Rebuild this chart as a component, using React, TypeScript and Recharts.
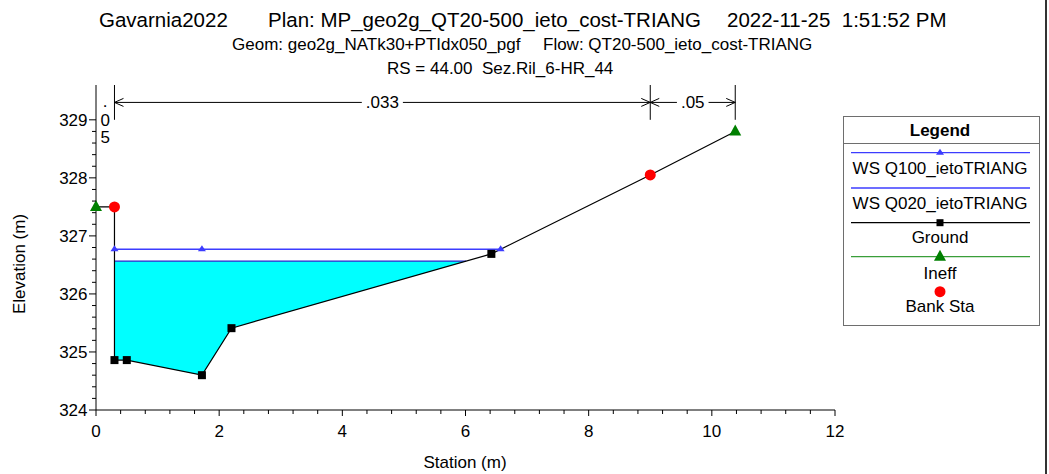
import React from 'react';
import { ComposedChart, Line, Area, XAxis, YAxis, ReferenceLine, Legend } from 'recharts';

// ---------- data ----------
const groundStation = [0, 0.3, 0.3, 0.5, 1.72, 2.2, 6.42, 9.0, 10.38];
const groundElevation = [327.5, 327.5, 324.86, 324.86, 324.6, 325.41, 326.69, 328.05, 328.8];

const wsQ100Station = [0.3, 1.72, 6.57];
const wsQ100Elevation = [326.77, 326.77, 326.77];

const wsQ020Station = [0.3, 6.01];
const wsQ020Elevation = [326.565, 326.565];

const waterStation = [0.3, 0.5, 1.72, 2.2, 6.01];
const waterBed = [324.86, 324.86, 324.6, 325.41, 326.565];
const waterTop = [326.565, 326.565, 326.565, 326.565, 326.565];

const ineffStation = [0, 10.38];
const ineffElevation = [327.5, 328.8];

const bankStation = [0.3, 9.0];
const bankElevation = [327.5, 328.05];

const manningBreaks = [0, 0.3, 9.0, 10.38];
const manningValues = ['.05', '.033', '.05'];

const xTickLabels = [0, 2, 4, 6, 8, 10, 12];
const yTickLabels = [324, 325, 326, 327, 328, 329];

const titleParts = ['Gavarnia2022', 'Plan: MP_geo2g_QT20-500_ieto_cost-TRIANG', '2022-11-25  1:51:52 PM'];
const subtitleParts = ['Geom: geo2g_NATk30+PTIdx050_pgf', 'Flow: QT20-500_ieto_cost-TRIANG'];
const rsLabel = 'RS = 44.00  Sez.Ril_6-HR_44';
const legendLabels = ['WS Q100_ietoTRIANG', 'WS Q020_ietoTRIANG', 'Ground', 'Ineff', 'Bank Sta'];

// ---------- derived tables ----------
const zip = (xs: number[], ys: number[]) => xs.map((x, i) => ({ x, y: ys[i] }));
const groundData = zip(groundStation, groundElevation);
const q100Data = zip(wsQ100Station, wsQ100Elevation);
const q020Data = zip(wsQ020Station, wsQ020Elevation);
const ineffData = zip(ineffStation, ineffElevation);
const bankData = zip(bankStation, bankElevation);
const waterData = waterStation.map((x, i) => ({ x, range: [waterBed[i], waterTop[i]] }));

// minor ticks between labelled ticks
const xTicks: number[] = [];
for (let i = 0; i <= 30; i++) xTicks.push(Math.round(i * 4) / 10);
const yTicks: number[] = [];
for (let i = 0; i <= 25; i++) yTicks.push(Math.round((324 + i * 0.2) * 10) / 10);

const FONT = '"Liberation Sans", Arial, sans-serif';
const C_Q100 = '#3c3cff';
const C_Q020 = '#2424cc';
const C_GREEN = '#008000';
const C_GREEN_LINE = '#3a9e3a';
const C_RED = '#ff0000';
const C_WATER = '#00ffff';

const isMajor = (v: number, list: number[]) => list.some((m) => Math.abs(m - v) < 1e-6);

const XTick = (props: any) => {
  const { x, y, payload } = props;
  const major = isMajor(payload.value, xTickLabels);
  return (
    <g>
      <line x1={x} x2={x} y1={y} y2={y + (major ? 6 : 4)} stroke="#000" strokeWidth={1} />
      {major && (
        <text x={x} y={y + 26.5} textAnchor="middle" fontSize={17} fontFamily={FONT} fill="#000">
          {payload.value}
        </text>
      )}
    </g>
  );
};

const YTick = (props: any) => {
  const { x, y, payload } = props;
  const major = isMajor(payload.value, yTickLabels);
  return (
    <g>
      <line x1={x - (major ? 7 : 4)} x2={x} y1={y} y2={y} stroke="#000" strokeWidth={1} />
      {major && (
        <text x={x - 8.5} y={y + 6} textAnchor="end" fontSize={17} fontFamily={FONT} fill="#000">
          {payload.value}
        </text>
      )}
    </g>
  );
};

const textWidth = (s: string, size: number) =>
  s.split('').reduce((w, c) => w + (c === '.' ? 0.278 : 0.556), 0) * size;

const ManningSpan = (props: any) => {
  const { x1, x2, y1, text } = props;
  const left = Math.min(x1, x2);
  const right = Math.max(x1, x2);
  const mid = (left + right) / 2;
  if (right - left < 30) {
    const chars = text.split('');
    const offs = [5, 24, 41];
    return (
      <g>
        {chars.map((c: string, i: number) => (
          <text key={i} x={mid} y={y1 + offs[i]} textAnchor="middle" fontSize={17} fontFamily={FONT} fill="#000">
            {c}
          </text>
        ))}
      </g>
    );
  }
  const tw = textWidth(text, 17);
  return (
    <g>
      <line x1={left} x2={mid - tw / 2 - 4} y1={y1} y2={y1} stroke="#000" strokeWidth={1} />
      <line x1={mid + tw / 2 + 4} x2={right} y1={y1} y2={y1} stroke="#000" strokeWidth={1} />
      <polyline points={`${left + 9},${y1 - 4} ${left},${y1} ${left + 9},${y1 + 4}`} fill="none" stroke="#000" strokeWidth={1} />
      <polyline points={`${right - 9},${y1 - 4} ${right},${y1} ${right - 9},${y1 + 4}`} fill="none" stroke="#000" strokeWidth={1} />
      <text x={mid} y={y1 + 6} textAnchor="middle" fontSize={17} fontFamily={FONT} fill="#000">
        {text}
      </text>
    </g>
  );
};

const sameStation = (x: number, y: number) =>
  ineffData.some((p) => Math.abs(p.x - x) < 1e-6 && Math.abs(p.y - y) < 1e-6) ||
  bankData.some((p) => Math.abs(p.x - x) < 1e-6 && Math.abs(p.y - y) < 1e-6);

const GroundDot = (props: any) => {
  const { cx, cy, index, payload } = props;
  if (cx == null || cy == null || sameStation(payload.x, payload.y)) return <g key={`gd${index}`} />;
  return <rect key={`gd${index}`} x={cx - 4} y={cy - 4} width={8} height={8} fill="#000" />;
};

const SmallTri = (props: any) => {
  const { cx, cy, index } = props;
  if (cx == null || cy == null) return <g key={`st${index}`} />;
  return <path key={`st${index}`} d={`M${cx},${cy - 4} L${cx + 4},${cy + 2} L${cx - 4},${cy + 2} Z`} fill={C_Q100} />;
};

const BigTri = (props: any) => {
  const { cx, cy, index } = props;
  if (cx == null || cy == null) return <g key={`bt${index}`} />;
  return <path key={`bt${index}`} d={`M${cx},${cy - 7} L${cx + 6},${cy + 4} L${cx - 6},${cy + 4} Z`} fill={C_GREEN} />;
};

const RedDot = (props: any) => {
  const { cx, cy, index } = props;
  if (cx == null || cy == null) return <g key={`rd${index}`} />;
  return <circle key={`rd${index}`} cx={cx} cy={cy} r={5.5} fill={C_RED} />;
};

const LegendBox = () => {
  const w = 196;
  const h = 209;
  const cx = 97;
  const l = 8;
  const r = 187;
  const ts = { fontSize: 17, fontFamily: FONT, fill: '#000', textAnchor: 'middle' as const };
  return (
    <svg width={w + 2} height={h + 2} style={{ display: 'block' }}>
      <rect x={0.5} y={0.5} width={w} height={h} fill="#fff" stroke="#6e6e6e" strokeWidth={1} />
      <text x={cx} y={20} {...ts} fontWeight="bold">Legend</text>
      <line x1={0.5} x2={w + 0.5} y1={27.5} y2={27.5} stroke="#6e6e6e" />
      <line x1={l} x2={r} y1={36.7} y2={36.7} stroke={C_Q100} strokeWidth={1.3} />
      <path d={`M${cx},${32.7} L${cx + 4},${38.7} L${cx - 4},${38.7} Z`} fill={C_Q100} />
      <text x={cx} y={58} {...ts}>{legendLabels[0]}</text>
      <line x1={l} x2={r} y1={72} y2={72} stroke={C_Q100} strokeWidth={1.3} />
      <text x={cx} y={93} {...ts}>{legendLabels[1]}</text>
      <line x1={l} x2={r} y1={106.7} y2={106.7} stroke="#000" strokeWidth={1.3} />
      <rect x={cx - 3.5} y={103.2} width={7} height={7} fill="#000" />
      <text x={cx} y={127} {...ts}>{legendLabels[2]}</text>
      <line x1={l} x2={r} y1={140.7} y2={140.7} stroke={C_GREEN_LINE} strokeWidth={1.3} />
      <path d={`M${cx},${133.7} L${cx + 6},${144.7} L${cx - 6},${144.7} Z`} fill={C_GREEN} />
      <text x={cx} y={163} {...ts}>{legendLabels[3]}</text>
      <circle cx={cx} cy={175.7} r={5.5} fill={C_RED} />
      <text x={cx} y={196} {...ts}>{legendLabels[4]}</text>
    </svg>
  );
};

export default function App() {
  const ts = { fontFamily: FONT, fill: '#000', style: { whiteSpace: 'pre' as const } };
  return (
    <div style={{ position: 'absolute', left: 0, top: 0, width: 1049, height: 474, background: '#fff' }}>
      <ComposedChart width={1049} height={474} margin={{ top: 85, right: 214, bottom: 0, left: 0 }}>
        <XAxis
          dataKey="x"
          type="number"
          domain={[0, 12]}
          ticks={xTicks}
          interval={0}
          tick={(p: any) => <XTick {...p} />}
          tickLine={false}
          tickSize={0}
          tickMargin={0}
          axisLine={{ stroke: '#000' }}
          height={64}
        />
        <YAxis
          type="number"
          domain={[324, 329.6]}
          ticks={yTicks}
          interval={0}
          tick={(p: any) => <YTick {...p} />}
          tickLine={false}
          tickSize={0}
          tickMargin={0}
          axisLine={{ stroke: '#000' }}
          width={96}
        />
        <Area
          data={waterData}
          dataKey="range"
          type="linear"
          stroke="none"
          fill={C_WATER}
          fillOpacity={1}
          dot={false}
          activeDot={false}
          isAnimationActive={false}
        />
        <Line data={q020Data} dataKey="y" type="linear" stroke={C_Q020} strokeWidth={1.3} dot={false} activeDot={false} isAnimationActive={false} />
        <Line data={q100Data} dataKey="y" type="linear" stroke={C_Q100} strokeWidth={1.3} dot={(p: any) => <SmallTri {...p} />} activeDot={false} isAnimationActive={false} />
        <Line data={groundData} dataKey="y" type="linear" stroke="#000" strokeWidth={1.2} dot={(p: any) => <GroundDot {...p} />} activeDot={false} isAnimationActive={false} />
        <Line data={ineffData} dataKey="y" type="linear" stroke="none" dot={(p: any) => <BigTri {...p} />} activeDot={false} isAnimationActive={false} />
        <Line data={bankData} dataKey="y" type="linear" stroke="none" dot={(p: any) => <RedDot {...p} />} activeDot={false} isAnimationActive={false} />
        {manningBreaks.slice(1).map((b, i) => (
          <ReferenceLine
            key={`mb${i}`}
            segment={[{ x: b, y: 329 }, { x: b, y: 329.6 }]}
            stroke="#000"
            strokeWidth={1}
            ifOverflow="visible"
          />
        ))}
        {manningValues.map((v, i) => (
          <ReferenceLine
            key={`mv${i}`}
            segment={[{ x: manningBreaks[i], y: 329.3 }, { x: manningBreaks[i + 1], y: 329.3 }]}
            ifOverflow="visible"
            shape={(p: any) => <ManningSpan {...p} text={v} />}
          />
        ))}
        <Legend
          layout="vertical"
          align="center"
          verticalAlign="middle"
          content={() => <LegendBox />}
          wrapperStyle={{ position: 'absolute', left: 843, top: 116, width: 198, height: 211 }}
        />
      </ComposedChart>
      <svg width={1049} height={474} style={{ position: 'absolute', left: 0, top: 0, pointerEvents: 'none' }}>
        <text x={99} y={26.5} fontSize={20.5} {...ts}>{titleParts[0]}</text>
        <text x={268} y={26.5} fontSize={20.5} {...ts}>{titleParts[1]}</text>
        <text x={727} y={26.5} fontSize={20.5} {...ts}>{titleParts[2]}</text>
        <text x={232} y={50} fontSize={17} {...ts}>{subtitleParts[0]}</text>
        <text x={543} y={50} fontSize={17} {...ts}>{subtitleParts[1]}</text>
        <text x={387} y={74} fontSize={17} {...ts}>{rsLabel}</text>
        <text x={0} y={0} fontSize={17} textAnchor="middle" transform="translate(25,264) rotate(-90)" {...ts}>
          Elevation (m)
        </text>
        <text x={465} y={468} fontSize={17} textAnchor="middle" {...ts}>Station (m)</text>
        <rect x={1045} y={0} width={2} height={474} fill="#333" />
      </svg>
    </div>
  );
}
